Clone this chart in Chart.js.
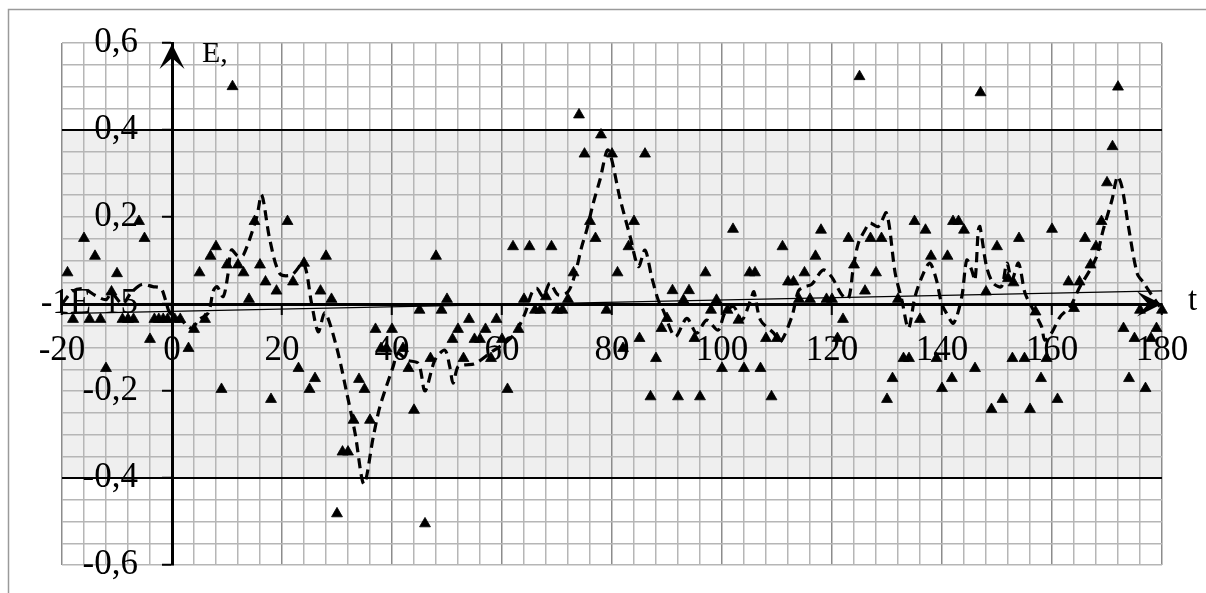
<!DOCTYPE html>
<html>
<head>
<meta charset="utf-8">
<script src="https://cdn.jsdelivr.net/npm/chart.js@4.4.1/dist/chart.umd.min.js"></script>
<style>
  html, body { margin: 0; padding: 0; background: #fff; }
  canvas { display: block; background: #fff; }
</style>
</head>
<body>
<canvas id="chart" width="1206" height="593"></canvas>
<script>
// Measured values E(t)
const pointT = [-19, -18, -16, -15, -14, -13, -12, -11, -10, -9, -8, -7, -6, -5, -4, -3.2, -2.4, -1.6, -0.8, 0.5, 1.5,
  3, 4, 5, 6, 7, 8, 9, 10, 11, 12, 13, 14, 15, 16, 17, 18, 19, 21, 22, 23, 24, 25, 26, 27, 28, 29,
  30, 31, 32, 33, 34, 35, 36, 37, 38, 39, 40, 42, 43, 44, 45, 46, 47, 48, 49, 50, 51, 52, 53, 54, 55, 56, 57, 58, 59,
  60, 61, 62, 63, 64, 65, 66, 67, 68, 69, 70, 71, 72, 73, 74, 75, 76, 77, 78, 79, 80, 81, 82, 83, 84, 85, 86, 87, 88, 89,
  90, 91, 92, 93, 94, 95, 96, 97, 98, 99, 100, 101, 102, 103, 104, 105, 106, 107, 108, 109, 110, 111, 112, 113, 114, 115,
  116, 117, 118, 119, 120, 121, 122, 123, 124, 125, 126, 127, 128, 129, 130, 131, 132, 133, 134, 135, 136, 137, 138, 139,
  140, 141, 141.8, 142, 143, 144, 146, 147, 148, 149, 150, 151, 152, 152.8, 153, 154, 155, 156, 157, 158, 159, 160, 161,
  163, 164, 165, 166, 167, 168, 169, 170, 171, 172, 173, 174, 175, 176, 177, 178, 179, 180];
const pointE = [0.072, -0.035, 0.151, -0.035, 0.11, -0.035, -0.148, 0.028, 0.07, -0.035, -0.035, -0.035, 0.19, 0.151, -0.081, -0.035, -0.035, -0.035, -0.035, -0.035, -0.035,
  -0.102, -0.058, 0.072, -0.035, 0.11, 0.132, -0.196, 0.09, 0.5, 0.09, 0.072, 0.011, 0.19, 0.09, 0.051, -0.219, 0.03, 0.19, 0.051, -0.148, 0.094, -0.196, -0.171, 0.03, 0.11, 0.011,
  -0.482, -0.34, -0.34, -0.267, -0.173, -0.196, -0.267, -0.058, -0.102, -0.102, -0.058, -0.102, -0.148, -0.244, -0.014, -0.505, -0.125, 0.11, -0.014, 0.011, -0.081, -0.058, -0.125, -0.035, -0.081, -0.081, -0.058, -0.125, -0.035,
  -0.081, -0.196, 0.132, -0.058, 0.011, 0.132, -0.014, -0.014, 0.017, 0.132, -0.014, -0.014, 0.011, 0.072, 0.435, 0.345, 0.19, 0.151, 0.389, -0.014, 0.345, 0.072, -0.102, 0.132, 0.19, -0.079, 0.345, -0.213, -0.125, -0.056,
  -0.033, 0.031, -0.213, 0.009, 0.031, -0.079, -0.213, 0.072, -0.014, 0.009, -0.148, -0.014, 0.172, -0.037, -0.148, 0.072, 0.072, -0.148, -0.079, -0.213, -0.079, 0.132, 0.051, 0.051, 0.011, 0.072,
  0.011, 0.11, 0.17, 0.011, 0.011, -0.079, -0.035, 0.151, 0.09, 0.523, 0.03, 0.151, 0.072, 0.151, -0.219, -0.171, 0.011, -0.125, -0.125, 0.19, -0.035, 0.17, 0.11, -0.125,
  -0.194, 0.11, -0.171, 0.19, 0.19, 0.17, -0.148, 0.486, 0.028, -0.242, 0.132, -0.219, 0.059, -0.125, 0.049, 0.151, -0.125, -0.242, -0.018, -0.171, -0.125, 0.172, -0.219,
  0.051, -0.01, 0.051, 0.151, 0.09, 0.132, 0.19, 0.279, 0.362, 0.499, -0.056, -0.171, -0.079, -0.014, -0.194, -0.079, -0.056, -0.014];

// Smoothed curve
const smoothT = [-20, -18, -16, -14, -12, -11, -9, -7.5, -5.5, -3.5, -2, -1.2, -0.4, 1.5, 3.6, 4.8, 6.6, 7.5, 8.2, 9.3, 10.2, 10.8, 12, 13,
  15.4, 16.3, 17.8, 19.6, 21.8, 23.9, 25.4, 26.6, 27.8, 29.9, 31.8, 33.3, 34.9, 36.6, 37.8, 40.2, 41.1, 42.7, 44.8, 46, 47.8, 49.6,
  50.5, 51.1, 52, 53.3, 55.1, 58.1, 60.5, 62.4, 64.2, 65.4, 66.3, 67.5, 68.7, 70.2, 72, 73.3, 74.5, 75.4, 76.6, 77.8, 79.3, 81.5,
  83.3, 84.8, 86, 87.2, 88.4, 89.3, 91.5, 93.6, 95.4, 97.2, 99.3, 100.5, 102.1, 103.6, 105.2, 105.8, 107, 109.4, 110.6, 112.7,
  113.9, 115.1, 116.3, 118.4, 119.9, 121.8, 123, 123.9, 124.8, 126, 126.9, 128.4, 129.9, 131.5, 132.7, 133.9, 135.1, 136.6,
  137.8, 139, 139.9, 140.8, 142.1, 143.6, 144.5, 145.4, 146, 146.6, 146.9, 148.1, 149.3, 150.8, 151.8, 152.7, 153.9, 155.1,
  156.6, 158.1, 158.7, 159.9, 161.5, 163.3, 165.1, 166.9, 168.1, 169.3, 170.9, 171.9, 172.7, 173.9, 175.5, 176.7, 177.9, 179.6];
const smoothE = [0.0, 0.03, 0.035, 0.02, 0.01, 0.025, 0.0, 0.025, 0.045, 0.04, 0.036, 0.01, -0.02, -0.035, -0.056, -0.037, -0.02, 0.03, 0.04, 0.017, 0.07, 0.124, 0.11, 0.113,
  0.2, 0.251, 0.147, 0.07, 0.067, 0.094, 0.0, -0.064, -0.02, -0.098, -0.206, -0.298, -0.414, -0.305, -0.236, -0.144, -0.113, -0.129, -0.137, -0.2, -0.129, -0.106,
  -0.144, -0.182, -0.144, -0.14, -0.137, -0.11, -0.09, -0.067, -0.021, 0.025, 0.036, 0.017, 0.048, 0.021, 0.028, 0.07, 0.132, 0.17, 0.232, 0.285, 0.354, 0.24,
  0.155, 0.086, 0.124, 0.063, 0.009, -0.014, -0.075, -0.033, -0.067, -0.037, -0.06, -0.021, -0.006, -0.037, 0.009, 0.028, -0.037, -0.067, -0.087, -0.029,
  0.03, 0.04, 0.045, 0.078, 0.063, 0.021, 0.013, 0.086, 0.14, 0.17, 0.186, 0.178, 0.209, 0.07, 0.009, -0.056, 0.017, 0.07,
  0.094, 0.055, 0.002, -0.021, -0.044, 0.017, 0.101, 0.078, 0.055, 0.17, 0.178, 0.086, 0.048, 0.04, 0.094, 0.055, 0.094, 0.025,
  -0.014, -0.052, -0.083, -0.067, -0.029, -0.006, 0.04, 0.078, 0.109, 0.17, 0.239, 0.293, 0.27, 0.178, 0.07, 0.048, 0.025, -0.006];

// Linear trend
const trendT = [-20, 180];
const trendE = [-0.022, 0.03];

// Tolerance band limits
const bandT = [-20, 180];
const bandUpper = [0.4, 0.4];
const bandLower = [-0.4, -0.4];

// Axis labels
const xTickValues = [-20, 0, 20, 40, 60, 80, 100, 120, 140, 160, 180];
const xTickLabels = ['-20', '0', '20', '40', '60', '80', '100', '120', '140', '160', '180'];
const yTickValues = [-0.6, -0.4, -0.2, 0, 0.2, 0.4, 0.6];
const yTickLabels = ['-0,6', '-0,4', '-0,2', '-1E-15', '0,2', '0,4', '0,6'];
const xAxisTitle = 't';
const yAxisTitle = 'E,';

const zip = (xs, ys) => xs.map((x, i) => ({ x, y: ys[i] }));
const near = (a, b) => Math.abs(a - b) < 1e-6;
const labelFor = (vals, labels, v) => {
  const i = vals.findIndex(t => near(t, v));
  return i < 0 ? '' : labels[i];
};
const SERIF = '"Liberation Serif", "Times New Roman", serif';
const noPadding = s => { s.paddingTop = 0; s.paddingBottom = 0; s.paddingLeft = 0; s.paddingRight = 0; };

// Frame, axis arrows and axis titles
const decorations = {
  id: 'decorations',
  beforeDraw(chart) {
    const ctx = chart.ctx;
    ctx.save();
    ctx.strokeStyle = '#9a9a9a';
    ctx.lineWidth = 1.5;
    ctx.strokeRect(8.5, 9.5, 1400, 800);
    ctx.restore();
  },
  beforeDatasetsDraw(chart) {
    const { ctx, scales: { x, y } } = chart;
    const x0 = x.getPixelForValue(0);
    const y0 = y.getPixelForValue(0);
    const arrow = (tx, ty, dx, dy) => {
      const L = 25, W = 12.5, N = 14;
      const px = -dy, py = dx;
      ctx.beginPath();
      ctx.moveTo(tx, ty);
      ctx.lineTo(tx - dx * L + px * W, ty - dy * L + py * W);
      ctx.lineTo(tx - dx * N, ty - dy * N);
      ctx.lineTo(tx - dx * L - px * W, ty - dy * L - py * W);
      ctx.closePath();
      ctx.fill();
    };
    ctx.save();
    ctx.fillStyle = '#000';
    arrow(x0, y.getPixelForValue(0.6) + 1, 0, -1);
    arrow(x.getPixelForValue(180), y0, 1, 0);
    ctx.restore();
  },
  afterDraw(chart) {
    const { ctx, scales: { x, y } } = chart;
    ctx.save();
    ctx.fillStyle = '#000';
    ctx.textBaseline = 'alphabetic';
    ctx.textAlign = 'left';
    ctx.font = '30px ' + SERIF;
    ctx.fillText(yAxisTitle, x.getPixelForValue(0) + 30, y.getPixelForValue(0.6) + 19);
    ctx.font = '33px ' + SERIF;
    ctx.fillText(xAxisTitle, x.getPixelForValue(180) + 26, y.getPixelForValue(0) + 6);
    ctx.restore();
  }
};

new Chart(document.getElementById('chart'), {
  type: 'scatter',
  data: {
    datasets: [
      {
        label: 'E',
        data: zip(pointT, pointE),
        showLine: false,
        pointStyle: 'triangle',
        pointRadius: 6.3,
        pointBorderWidth: 0.8,
        pointBackgroundColor: '#000',
        pointBorderColor: '#000',
        clip: false,
        order: 0
      },
      {
        label: 'smoothed',
        type: 'line',
        data: zip(smoothT, smoothE),
        borderColor: '#000',
        borderWidth: 3.2,
        borderDash: [10, 6],
        tension: 0.3,
        pointRadius: 0,
        fill: false,
        order: 1
      },
      {
        label: 'trend',
        type: 'line',
        data: zip(trendT, trendE),
        borderColor: '#000',
        borderWidth: 1.3,
        pointRadius: 0,
        fill: false,
        order: 2
      },
      {
        label: 'upper',
        type: 'line',
        data: zip(bandT, bandUpper),
        borderColor: '#000',
        borderWidth: 2,
        pointRadius: 0,
        fill: '+1',
        backgroundColor: '#efefef',
        order: 3
      },
      {
        label: 'lower',
        type: 'line',
        data: zip(bandT, bandLower),
        borderColor: '#000',
        borderWidth: 2,
        pointRadius: 0,
        fill: false,
        order: 4
      }
    ]
  },
  options: {
    responsive: false,
    animation: false,
    devicePixelRatio: 1,
    layout: { padding: { left: 62, right: 44, top: 43, bottom: 28 } },
    plugins: {
      legend: { display: false },
      tooltip: { enabled: false },
      filler: { drawTime: 'beforeDraw' }
    },
    scales: {
      x: {
        type: 'linear',
        min: -20,
        max: 180,
        position: { y: 0 },
        afterFit: noPadding,
        ticks: {
          stepSize: 4,
          autoSkip: false,
          minRotation: 0,
          maxRotation: 0,
          padding: 17,
          color: '#000',
          font: { family: SERIF, size: 35 },
          callback: v => labelFor(xTickValues, xTickLabels, v)
        },
        grid: {
          lineWidth: 1.5,
          color: c => {
            const v = c.tick ? c.tick.value : NaN;
            if (near(v, 0)) return 'rgba(0,0,0,0)';
            return near(v % 20, 0) ? '#8c8c8c' : '#b6b6b6';
          },
          tickLength: 9,
          tickWidth: 2,
          tickColor: c => (c.tick && near(c.tick.value % 20, 0) ? '#000' : 'rgba(0,0,0,0)')
        },
        border: { display: true, color: '#000', width: 3 }
      },
      y: {
        type: 'linear',
        min: -0.6,
        max: 0.6,
        position: { x: 0 },
        afterFit: noPadding,
        ticks: {
          stepSize: 0.05,
          autoSkip: false,
          display: false
        },
        grid: {
          lineWidth: 1.5,
          color: c => (c.tick && near(c.tick.value, 0) ? 'rgba(0,0,0,0)' : '#b6b6b6'),
          tickLength: 9,
          tickWidth: 2,
          tickColor: c => (c.tick && yTickValues.some(t => near(t, c.tick.value)) ? '#000' : 'rgba(0,0,0,0)')
        },
        border: { display: true, color: '#000', width: 3 }
      },
      yLabels: {
        type: 'linear',
        axis: 'y',
        min: -0.6,
        max: 0.6,
        position: { x: -6.2 },
        afterFit: noPadding,
        ticks: {
          stepSize: 0.2,
          autoSkip: false,
          padding: 0,
          color: '#000',
          font: { family: SERIF, size: 35 },
          callback: v => labelFor(yTickValues, yTickLabels, v)
        },
        grid: { display: false, drawTicks: false },
        border: { display: false }
      }
    }
  },
  plugins: [decorations]
});
</script>
</body>
</html>
